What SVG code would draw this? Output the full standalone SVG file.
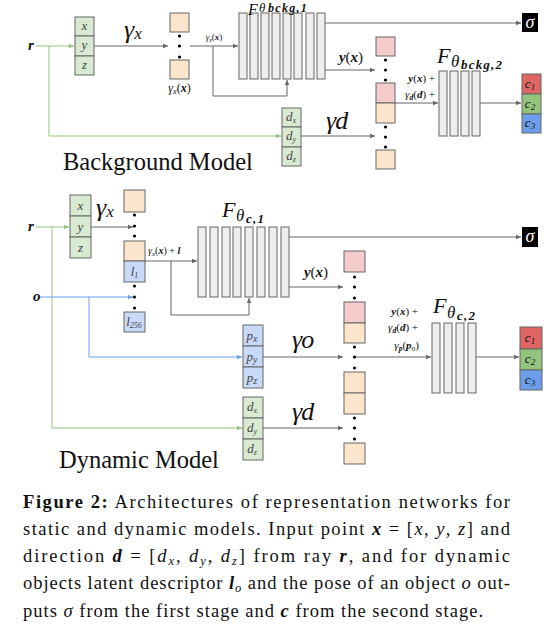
<svg xmlns="http://www.w3.org/2000/svg" width="556" height="630" viewBox="0 0 556 630">
<style>
.cell{stroke:#666;stroke-width:1}
.g{fill:#d9ead3}.b{fill:#c9daf8}.o{fill:#fce5cd}.p{fill:#f4cccc}
.c1{fill:#e06666}.c2{fill:#93c47d}.c3{fill:#6d9eeb}
.bar{fill:#eeeeee;stroke:#666;stroke-width:1}
.ln{stroke:#666;fill:none;stroke-width:1}
.lg{stroke:#93c47d;fill:none;stroke-width:1}
.lb{stroke:#6d9eeb;fill:none;stroke-width:1}
text{font-family:"Liberation Serif",serif;fill:#111}
.m{font-style:italic}
.mb{font-style:italic;font-weight:bold}
.ct{font-family:"Liberation Serif",serif;font-style:italic;font-size:13px;fill:#444;text-anchor:middle}
.cp{font-size:18.5px}
.gam{font-family:"Liberation Serif",serif;font-style:italic;font-size:26px}
.Ff{font-style:italic;font-size:22px}
.Ft{font-style:italic;font-size:17px}
.Fs{font-style:italic;font-weight:bold;font-size:13px;letter-spacing:1.2px}
.dot{fill:#000}
</style>
<defs>
<marker id="ag" markerWidth="6" markerHeight="6" refX="5" refY="3" orient="auto" markerUnits="userSpaceOnUse"><path d="M0,0.8 L5,3 L0,5.2 z" fill="#666"/></marker>
<marker id="agr" markerWidth="6" markerHeight="6" refX="5" refY="3" orient="auto" markerUnits="userSpaceOnUse"><path d="M0,0.8 L5,3 L0,5.2 z" fill="#93c47d"/></marker>
<marker id="abl" markerWidth="6" markerHeight="6" refX="5" refY="3" orient="auto" markerUnits="userSpaceOnUse"><path d="M0,0.8 L5,3 L0,5.2 z" fill="#6d9eeb"/></marker>
</defs>

<g id="connectors">
<path class="lg" d="M36,46 H74" marker-end="url(#agr)"/>
<path class="lg" d="M49,46 V136 H281" marker-end="url(#agr)"/>
<path class="ln" d="M94,46 H168" marker-end="url(#ag)"/>
<path class="ln" d="M190,46 H238" marker-end="url(#ag)"/>
<path class="ln" d="M213,46 V96 H287 V80" marker-end="url(#ag)"/>
<path class="ln" d="M325,23 H521" marker-end="url(#ag)"/>
<path class="ln" d="M325,70 H375" marker-end="url(#ag)"/>
<path class="ln" d="M395,103 H438" marker-end="url(#ag)"/>
<path class="ln" d="M480,103 H521" marker-end="url(#ag)"/>
<path class="ln" d="M301,136 H375" marker-end="url(#ag)"/>
<path class="lg" d="M36,227 H69" marker-end="url(#agr)"/>
<path class="lg" d="M52,227 V428 H242" marker-end="url(#agr)"/>
<path class="ln" d="M91,227 H133" marker-end="url(#ag)"/>
<path class="lb" d="M40,297 H133" marker-end="url(#abl)"/>
<path class="lb" d="M89,297 V357 H242" marker-end="url(#abl)"/>
<path class="ln" d="M145,261 H197" marker-end="url(#ag)"/>
<path class="ln" d="M171,261 V315 H249 V298" marker-end="url(#ag)"/>
<path class="ln" d="M289,237 H521" marker-end="url(#ag)"/>
<path class="ln" d="M289,287 H343" marker-end="url(#ag)"/>
<path class="ln" d="M263,357 H343" marker-end="url(#ag)"/>
<path class="ln" d="M263,428 H343" marker-end="url(#ag)"/>
<path class="ln" d="M355,357 H431" marker-end="url(#ag)"/>
<path class="ln" d="M476,357 H519" marker-end="url(#ag)"/>
</g>

<!-- ===== Background model ===== -->
<g id="bg-r"><text x="28" y="50" class="mb" font-size="15">r</text></g>

<g id="bg-xyz">
<rect class="cell g" x="75" y="17" width="19" height="19"/>
<rect class="cell g" x="75" y="36" width="19" height="20"/>
<rect class="cell g" x="75" y="56" width="19" height="19"/>
<text class="ct" x="84.5" y="30">x</text>
<text class="ct" x="84.5" y="49">y</text>
<text class="ct" x="84.5" y="69">z</text>
</g>
<g id="bg-gx-label"><text x="124" y="38" class="gam">γ<tspan font-size="17" dy="1">x</tspan></text></g>

<g id="bg-posenc">
<rect class="cell o" x="170" y="13" width="19" height="19"/>
<rect class="cell o" x="170" y="60" width="19" height="19"/>
<circle class="dot" cx="179.5" cy="36" r="1.6"/>
<circle class="dot" cx="179.5" cy="46" r="1.6"/>
<circle class="dot" cx="179.5" cy="57" r="1.6"/>
<text x="179.5" y="92" font-size="12" text-anchor="middle" fill="#444"><tspan class="m">γ</tspan><tspan class="m" font-size="8" dy="2">x</tspan><tspan dy="-2">(</tspan><tspan class="mb">x</tspan>)</text>
</g>
<g id="bg-gxx-label"><text x="214" y="40" font-size="9" text-anchor="middle" fill="#444"><tspan class="m">γ</tspan><tspan class="m" font-size="6" dy="1.5">x</tspan><tspan dy="-1.5">(</tspan><tspan class="mb">x</tspan>)</text></g>

<g id="bg-F1">
<rect class="bar" x="239" y="13" width="8" height="66"/>
<rect class="bar" x="250" y="13" width="8" height="66"/>
<rect class="bar" x="261" y="13" width="8" height="66"/>
<rect class="bar" x="272" y="13" width="8" height="66"/>
<rect class="bar" x="283" y="13" width="8" height="66"/>
<rect class="bar" x="294" y="13" width="8" height="66"/>
<rect class="bar" x="306" y="13" width="8" height="66"/>
<rect class="bar" x="317" y="13" width="8" height="66"/>
<text x="248" y="14.5" class="m" font-size="16">F</text>
<text x="259" y="12" class="m" font-size="13">θ</text>
<text x="268" y="11.5" class="mb" font-size="12" letter-spacing="1.3">bckg,1</text>
</g>

<g id="bg-sigma">
<rect x="522" y="13" width="16" height="19" fill="#000"/>
<text x="530" y="28" class="m" font-size="18" text-anchor="middle" style="fill:#fff">σ</text>
</g>

<g id="bg-yx-label"><text x="351" y="62" font-size="15" text-anchor="middle"><tspan class="mb">y</tspan>(<tspan class="mb">x</tspan>)</text></g>

<g id="bg-concat">
<rect class="cell p" x="376" y="37" width="19" height="19"/>
<circle class="dot" cx="385.5" cy="60" r="1.6"/>
<circle class="dot" cx="385.5" cy="70" r="1.6"/>
<circle class="dot" cx="385.5" cy="80" r="1.6"/>
<rect class="cell p" x="376" y="83" width="19" height="20"/>
<rect class="cell o" x="376" y="103" width="19" height="20"/>
<circle class="dot" cx="385.5" cy="127" r="1.6"/>
<circle class="dot" cx="385.5" cy="137" r="1.6"/>
<circle class="dot" cx="385.5" cy="147" r="1.6"/>
<rect class="cell o" x="376" y="150" width="19" height="19"/>
</g>
<g id="bg-sum-label">
<text x="435" y="82" font-size="11" text-anchor="end" fill="#333"><tspan class="mb">y</tspan>(<tspan class="mb">x</tspan>) +</text>
<text x="435" y="98" font-size="11" text-anchor="end" fill="#333"><tspan class="m">γ</tspan><tspan class="mb" font-size="7.5" dy="2">d</tspan><tspan dy="-2">(</tspan><tspan class="mb">d</tspan>) +</text>
</g>

<g id="bg-F2">
<rect class="bar" x="439" y="71" width="8" height="65"/>
<rect class="bar" x="450" y="71" width="8" height="65"/>
<rect class="bar" x="461" y="71" width="8" height="65"/>
<rect class="bar" x="472" y="71" width="8" height="65"/>
<text x="437" y="63" class="Ff">F</text>
<text x="451" y="67" class="Ft">θ</text>
<text x="461" y="69" class="Fs">bckg,2</text>
</g>

<g id="bg-rgb">
<rect class="cell c1" x="522" y="74" width="19" height="20"/>
<rect class="cell c2" x="522" y="94" width="19" height="20"/>
<rect class="cell c3" x="522" y="114" width="19" height="19"/>
<text x="530" y="88" class="m" font-size="13" text-anchor="middle" fill="#333">c<tspan font-size="9" dy="2">1</tspan></text>
<text x="530" y="108" class="m" font-size="13" text-anchor="middle" fill="#333">c<tspan font-size="9" dy="2">2</tspan></text>
<text x="530" y="127" class="m" font-size="13" text-anchor="middle" fill="#333">c<tspan font-size="9" dy="2">3</tspan></text>
</g>

<g id="bg-dir">
<rect class="cell g" x="282" y="108" width="19" height="19"/>
<rect class="cell g" x="282" y="127" width="19" height="20"/>
<rect class="cell g" x="282" y="147" width="19" height="19"/>
<text class="ct" x="291" y="121">d<tspan font-size="8" dy="2">x</tspan></text>
<text class="ct" x="291" y="140">d<tspan font-size="8" dy="2">y</tspan></text>
<text class="ct" x="291" y="160">d<tspan font-size="8" dy="2">z</tspan></text>
</g>
<g id="bg-gd-label"><text x="326" y="129" class="gam">γ<tspan dx="-1">d</tspan></text></g>

<g id="bg-title"><text x="63" y="170" font-size="24.5">Background Model</text></g>

<!-- ===== Dynamic model ===== -->
<g id="dy-r"><text x="28" y="231" class="mb" font-size="15">r</text></g>
<g id="dy-o"><text x="33" y="301" class="mb" font-size="15">o</text></g>

<g id="dy-xyz">
<rect class="cell g" x="70" y="195" width="21" height="21"/>
<rect class="cell g" x="70" y="216" width="21" height="21"/>
<rect class="cell g" x="70" y="237" width="21" height="21"/>
<text class="ct" x="80.5" y="210">x</text>
<text class="ct" x="80.5" y="231">y</text>
<text class="ct" x="80.5" y="252">z</text>
</g>
<g id="dy-gx-label"><text x="96" y="216" class="gam">γ<tspan font-size="17" dy="1">x</tspan></text></g>

<g id="dy-posenc">
<rect class="cell o" x="124" y="190" width="21" height="22"/>
<circle class="dot" cx="134.5" cy="215" r="1.6"/>
<circle class="dot" cx="134.5" cy="226" r="1.6"/>
<circle class="dot" cx="134.5" cy="236" r="1.6"/>
<rect class="cell o" x="124" y="241" width="21" height="20"/>
<rect class="cell b" x="124" y="261" width="21" height="21"/>
<text class="ct" x="134.5" y="276">l<tspan font-size="8" dy="2">1</tspan></text>
<circle class="dot" cx="134.5" cy="286" r="1.6"/>
<circle class="dot" cx="134.5" cy="297" r="1.6"/>
<circle class="dot" cx="134.5" cy="308" r="1.6"/>
<rect class="cell b" x="124" y="312" width="21" height="20"/>
<text class="ct" x="134" y="326">l<tspan font-size="8" dy="2">256</tspan></text>
</g>
<g id="dy-gxl-label"><text x="148" y="254" font-size="10" fill="#333"><tspan class="m">γ</tspan><tspan class="m" font-size="7" dy="1.5">x</tspan><tspan dy="-1.5">(</tspan><tspan class="mb">x</tspan>) + <tspan class="mb">l</tspan></text></g>

<g id="dy-F1">
<rect class="bar" x="198" y="227" width="8" height="70"/>
<rect class="bar" x="210" y="227" width="8" height="70"/>
<rect class="bar" x="222" y="227" width="8" height="70"/>
<rect class="bar" x="233" y="227" width="8" height="70"/>
<rect class="bar" x="245" y="227" width="8" height="70"/>
<rect class="bar" x="257" y="227" width="8" height="70"/>
<rect class="bar" x="269" y="227" width="8" height="70"/>
<rect class="bar" x="281" y="227" width="8" height="70"/>
<text x="222" y="217" class="Ff">F</text>
<text x="236" y="221" class="Ft">θ</text>
<text x="246" y="223" class="Fs">c,1</text>
</g>

<g id="dy-sigma">
<rect x="522" y="227" width="16" height="20" fill="#000"/>
<text x="530" y="242" class="m" font-size="18" text-anchor="middle" style="fill:#fff">σ</text>
</g>

<g id="dy-yx-label"><text x="316" y="277" font-size="15" text-anchor="middle"><tspan class="mb">y</tspan>(<tspan class="mb">x</tspan>)</text></g>

<g id="dy-concat">
<rect class="cell p" x="344" y="251" width="21" height="21"/>
<circle class="dot" cx="354.5" cy="277" r="1.6"/>
<circle class="dot" cx="354.5" cy="287" r="1.6"/>
<circle class="dot" cx="354.5" cy="298" r="1.6"/>
<rect class="cell p" x="344" y="302" width="21" height="21"/>
<rect class="cell o" x="344" y="323" width="21" height="20"/>
<circle class="dot" cx="354.5" cy="347" r="1.6"/>
<circle class="dot" cx="354.5" cy="357" r="1.6"/>
<circle class="dot" cx="354.5" cy="368" r="1.6"/>
<rect class="cell o" x="344" y="372" width="21" height="21"/>
<rect class="cell o" x="344" y="393" width="21" height="21"/>
<circle class="dot" cx="354.5" cy="418" r="1.6"/>
<circle class="dot" cx="354.5" cy="428" r="1.6"/>
<circle class="dot" cx="354.5" cy="439" r="1.6"/>
<rect class="cell o" x="344" y="443" width="21" height="21"/>
</g>

<g id="dy-pose">
<rect class="cell b" x="243" y="325" width="20" height="21"/>
<rect class="cell b" x="243" y="346" width="20" height="21"/>
<rect class="cell b" x="243" y="367" width="20" height="21"/>
<text class="ct" x="252" y="340" font-size="15">p<tspan font-size="10" dy="2">x</tspan></text>
<text class="ct" x="252" y="361" font-size="15">p<tspan font-size="10" dy="2">y</tspan></text>
<text class="ct" x="252" y="382" font-size="15">p<tspan font-size="10" dy="2">z</tspan></text>
</g>
<g id="dy-go-label"><text x="292" y="348" class="gam">γ<tspan dx="-1">o</tspan></text></g>

<g id="dy-dir">
<rect class="cell g" x="243" y="397" width="20" height="21"/>
<rect class="cell g" x="243" y="418" width="20" height="21"/>
<rect class="cell g" x="243" y="439" width="20" height="21"/>
<text class="ct" x="252" y="411">d<tspan font-size="8" dy="2">x</tspan></text>
<text class="ct" x="252" y="432">d<tspan font-size="8" dy="2">y</tspan></text>
<text class="ct" x="252" y="453">d<tspan font-size="8" dy="2">z</tspan></text>
</g>
<g id="dy-gd-label"><text x="292" y="420" class="gam">γ<tspan dx="-1">d</tspan></text></g>

<g id="dy-sum-label">
<text x="418" y="315" font-size="11" text-anchor="end" fill="#333"><tspan class="mb">y</tspan>(<tspan class="mb">x</tspan>) +</text>
<text x="418" y="331" font-size="11" text-anchor="end" fill="#333"><tspan class="m">γ</tspan><tspan class="mb" font-size="7.5" dy="2">d</tspan><tspan dy="-2">(</tspan><tspan class="mb">d</tspan>) +</text>
<text x="419" y="349" font-size="11" text-anchor="end" fill="#333"><tspan class="m">γ</tspan><tspan class="mb" font-size="7.5" dy="2">p</tspan><tspan dy="-2">(</tspan><tspan class="mb">p</tspan><tspan class="m" font-size="7.5" dy="2">o</tspan><tspan dy="-2">)</tspan></text>
</g>

<g id="dy-F2">
<rect class="bar" x="432" y="323" width="8" height="70"/>
<rect class="bar" x="444" y="323" width="8" height="70"/>
<rect class="bar" x="456" y="323" width="8" height="70"/>
<rect class="bar" x="468" y="323" width="8" height="70"/>
<text x="433" y="313" class="Ff">F</text>
<text x="447" y="318" class="Ft">θ</text>
<text x="457" y="320" class="Fs">c,2</text>
</g>

<g id="dy-rgb">
<rect class="cell c1" x="520" y="327" width="22" height="22"/>
<rect class="cell c2" x="520" y="349" width="22" height="21"/>
<rect class="cell c3" x="520" y="370" width="22" height="20"/>
<text x="530" y="342" class="m" font-size="13" text-anchor="middle" fill="#333">c<tspan font-size="9" dy="2">1</tspan></text>
<text x="530" y="363" class="m" font-size="13" text-anchor="middle" fill="#333">c<tspan font-size="9" dy="2">2</tspan></text>
<text x="530" y="384" class="m" font-size="13" text-anchor="middle" fill="#333">c<tspan font-size="9" dy="2">3</tspan></text>
</g>

<g id="dy-title"><text x="59" y="468" font-size="24.5">Dynamic Model</text></g>

<!-- ===== Caption ===== -->
<g id="caption">
<text class="cp" x="23" y="508" textLength="487" lengthAdjust="spacing"><tspan font-weight="bold">Figure 2:</tspan> Architectures of representation networks for</text>
<text class="cp" x="23" y="535" textLength="487" lengthAdjust="spacing">static and dynamic models. Input point <tspan class="mb">x</tspan> = [<tspan class="m">x</tspan>, <tspan class="m">y</tspan>, <tspan class="m">z</tspan>] and</text>
<text class="cp" x="23" y="562" textLength="487" lengthAdjust="spacing">direction <tspan class="mb">d</tspan> = [<tspan class="m">d</tspan><tspan class="m" font-size="12.5" dy="3">x</tspan><tspan dy="-3">, </tspan><tspan class="m">d</tspan><tspan class="m" font-size="12.5" dy="3">y</tspan><tspan dy="-3">, </tspan><tspan class="m">d</tspan><tspan class="m" font-size="12.5" dy="3">z</tspan><tspan dy="-3">] from ray </tspan><tspan class="mb">r</tspan>, and for dynamic</text>
<text class="cp" x="23" y="589" textLength="487" lengthAdjust="spacing">objects latent descriptor <tspan class="mb">l</tspan><tspan class="m" font-size="12.5" dy="3">o</tspan><tspan dy="-3"> and the pose of an object </tspan><tspan class="m">o</tspan> out-</text>
<text class="cp" x="23" y="617" textLength="460" lengthAdjust="spacing">puts <tspan class="m">σ</tspan> from the first stage and <tspan class="mb">c</tspan> from the second stage.</text>
</g>
</svg>
